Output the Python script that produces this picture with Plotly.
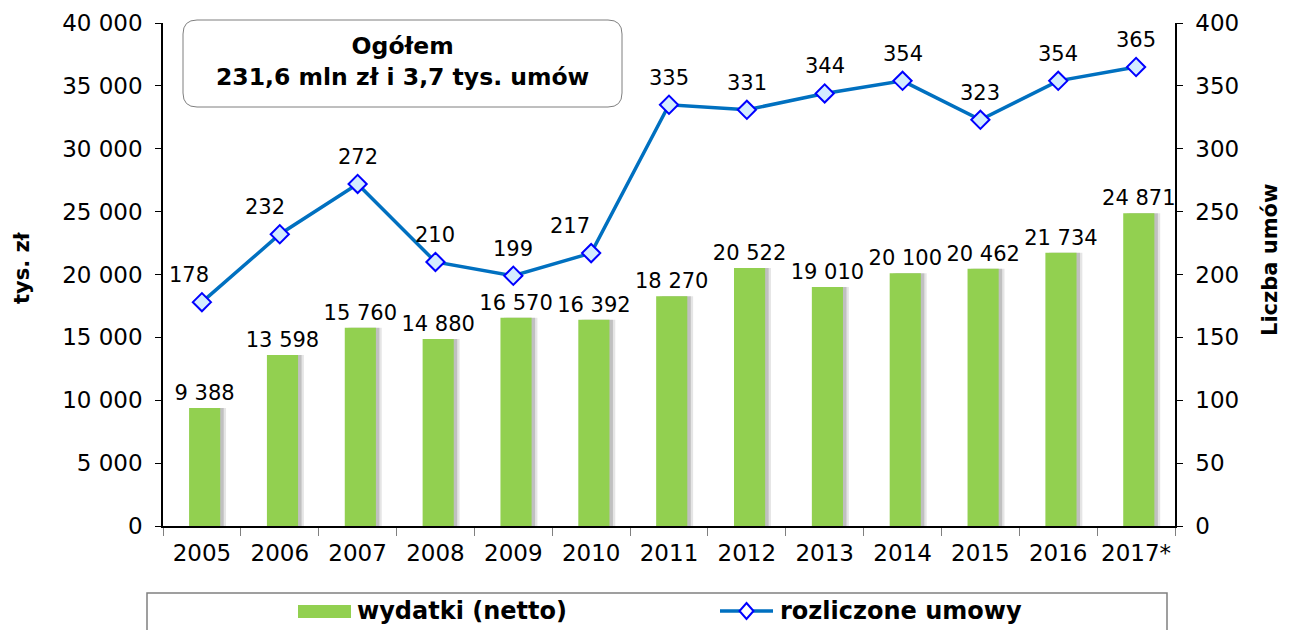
import plotly.graph_objects as go

# ---- data ----
years = ["2005", "2006", "2007", "2008", "2009", "2010", "2011", "2012",
         "2013", "2014", "2015", "2016", "2017*"]
wydatki = [9388, 13598, 15760, 14880, 16570, 16392, 18270, 20522,
           19010, 20100, 20462, 21734, 24871]
umowy = [178, 232, 272, 210, 199, 217, 335, 331, 344, 354, 323, 354, 365]

series_names = ["wydatki (netto)", "rozliczone umowy"]
box_lines = ["Ogółem", "231,6 mln zł i 3,7 tys. umów"]
y_left_title = "tys. zł"
y_right_title = "Liczba umów"

# horizontal nudges of the line labels (style, px)
line_label_dx = [-13, -15, 0, 0, 0, -21, 0, 0, 0, 0, 0, 0, 0]

# page body has an 8px default margin -> figure is 8px smaller than the window
OFF = 8
W, H = 1290 - OFF, 630 - OFF
L, T = 163 - OFF, 23 - OFF
R = W - (1175 - OFF)
B = H - (526 - OFF)
PW, PH = W - L - R, H - T - B


def px2paper(x, y):
    """reference-screenshot pixel -> paper coords"""
    return ((x - OFF) - L) / PW, (H - B - (y - OFF)) / PH


FONT = "DejaVu Sans"
GREEN = "#92D050"
BLUE = "#0070C0"
MFILL = "#D4ECFF"
MLINE = "#0000FF"
BAR_OFF = -0.165

fig = go.Figure()

# bar shadow (soft, two layers)
fig.add_trace(go.Bar(
    x=years, y=wydatki, width=0.4, offset=BAR_OFF + 0.075,
    marker=dict(color="rgba(0,0,0,0.10)", line=dict(width=0)),
    showlegend=False, hoverinfo="skip", yaxis="y"))
fig.add_trace(go.Bar(
    x=years, y=wydatki, width=0.4, offset=BAR_OFF + 0.045,
    marker=dict(color="rgba(0,0,0,0.16)", line=dict(width=0)),
    showlegend=False, hoverinfo="skip", yaxis="y"))

fig.add_trace(go.Bar(
    x=years, y=wydatki, width=0.4, offset=BAR_OFF, name=series_names[0],
    marker=dict(color=GREEN, line=dict(width=0)),
    texttemplate="%{y:,}", textposition="outside", cliponaxis=False,
    constraintext="none",
    textfont=dict(family=FONT, size=21, color="#000"), yaxis="y"))

fig.add_trace(go.Scatter(
    x=years, y=umowy, name=series_names[1], mode="lines+markers",
    line=dict(color=BLUE, width=3.5),
    marker=dict(symbol="diamond", size=14, color=MFILL,
                line=dict(color=MLINE, width=2)),
    cliponaxis=False, yaxis="y2"))

annotations = []
for i, (v, dx) in enumerate(zip(umowy, line_label_dx)):
    annotations.append(dict(x=i, y=v, xref="x", yref="y2", text=str(v),
                            showarrow=False, xshift=dx, yshift=27,
                            xanchor="center", yanchor="middle",
                            font=dict(family=FONT, size=21, color="#000")))

# rounded box for summary
x0, y0 = px2paper(183, 107)
x1, y1 = px2paper(622, 20)
rx, ry = 14 / PW, 14 / PH
path = (f"M {x0+rx},{y1} L {x1-rx},{y1} Q {x1},{y1} {x1},{y1-ry} "
        f"L {x1},{y0+ry} Q {x1},{y0} {x1-rx},{y0} L {x0+rx},{y0} "
        f"Q {x0},{y0} {x0},{y0+ry} L {x0},{y1-ry} Q {x0},{y1} {x0+rx},{y1} Z")
shapes = [dict(type="path", path=path, xref="paper", yref="paper",
               line=dict(color="#7F7F7F", width=1), fillcolor="white", layer="above")]

ax, ay = px2paper(402, 62)
annotations.append(dict(xref="paper", yref="paper", x=ax, y=ay, showarrow=False,
                        text="<b>" + box_lines[0] + "</b><br><b>" + box_lines[1] + "</b>",
                        font=dict(family=FONT, size=23.5, color="#000"), align="center",
                        xanchor="center", yanchor="middle"))

# axis titles
tlx, tly = px2paper(22, 268)
annotations.append(dict(xref="paper", yref="paper", x=tlx, y=tly, showarrow=False,
                        text="<b>" + y_left_title + "</b>", textangle=-90,
                        xanchor="center", yanchor="middle",
                        font=dict(family=FONT, size=21, color="#000")))
trx, try_ = px2paper(1270, 260)
annotations.append(dict(xref="paper", yref="paper", x=trx, y=try_, showarrow=False,
                        text="<b>" + y_right_title + "</b>", textangle=-90,
                        xanchor="center", yanchor="middle",
                        font=dict(family=FONT, size=21, color="#000")))

# ---- manual legend ----
lx0, ly0 = px2paper(147, 593)
lx1, ly1 = px2paper(1167, 650)
shapes.append(dict(type="rect", xref="paper", yref="paper", x0=lx0, y0=ly0, x1=lx1, y1=ly1,
                   line=dict(color="#808080", width=1.5), fillcolor="rgba(0,0,0,0)"))
gx0, gy0 = px2paper(298, 618)
gx1, gy1 = px2paper(351, 605)
shapes.append(dict(type="rect", xref="paper", yref="paper", x0=gx0, y0=gy0, x1=gx1, y1=gy1,
                   line=dict(width=0), fillcolor=GREEN))
bx0, by = px2paper(720, 611)
bx1, _ = px2paper(773, 611)
shapes.append(dict(type="line", xref="paper", yref="paper", x0=bx0, y0=by, x1=bx1, y1=by,
                   line=dict(color=BLUE, width=3.5)))
dcx, dcy = px2paper(746.5, 611)
dxh, dyh = 7 / PW, 8 / PH
shapes.append(dict(type="path", xref="paper", yref="paper",
                   path=f"M {dcx},{dcy+dyh} L {dcx+dxh},{dcy} L {dcx},{dcy-dyh} L {dcx-dxh},{dcy} Z",
                   line=dict(color=MLINE, width=2), fillcolor="white"))
t1x, t1y = px2paper(355, 611)
t2x, _ = px2paper(778, 611)
for tx, name in zip([t1x, t2x], series_names):
    annotations.append(dict(xref="paper", yref="paper", x=tx, y=t1y, showarrow=False,
                            text="<b>" + name + "</b>", xanchor="left", yanchor="middle",
                            font=dict(family=FONT, size=24, color="#000")))

fig.update_layout(
    width=W, height=H,
    margin=dict(l=L, r=R, t=T, b=B, pad=0),
    paper_bgcolor="white", plot_bgcolor="white",
    separators=", ",
    barmode="overlay",
    font=dict(family=FONT, size=23, color="#000"),
    shapes=shapes, annotations=annotations,
    showlegend=False,
    xaxis=dict(type="category", showline=True, linecolor="#000", linewidth=1.5,
               ticks="outside", tickson="boundaries", ticklen=8, tickcolor="#808080",
               tickfont=dict(family=FONT, size=23), showgrid=False, zeroline=False,
               tickangle=0, ticklabelstandoff=6, automargin=False,
               range=[-0.5, len(years) - 0.5]),
    yaxis=dict(range=[0, 40000], dtick=5000, tickformat=",", showline=True,
               linecolor="#000", linewidth=1.5, ticks="outside", ticklen=6,
               tickcolor="#000", showgrid=False, zeroline=False,
               tickfont=dict(family=FONT, size=23), ticklabelstandoff=8,
               automargin=False),
    yaxis2=dict(range=[0, 400], dtick=50, overlaying="y", side="right",
                showline=True, linecolor="#000", linewidth=1.5, ticks="outside",
                ticklen=6, tickcolor="#000", showgrid=False, zeroline=False,
                tickfont=dict(family=FONT, size=23), ticklabelstandoff=8,
                automargin=False),
)

fig.write_html("out.html")
